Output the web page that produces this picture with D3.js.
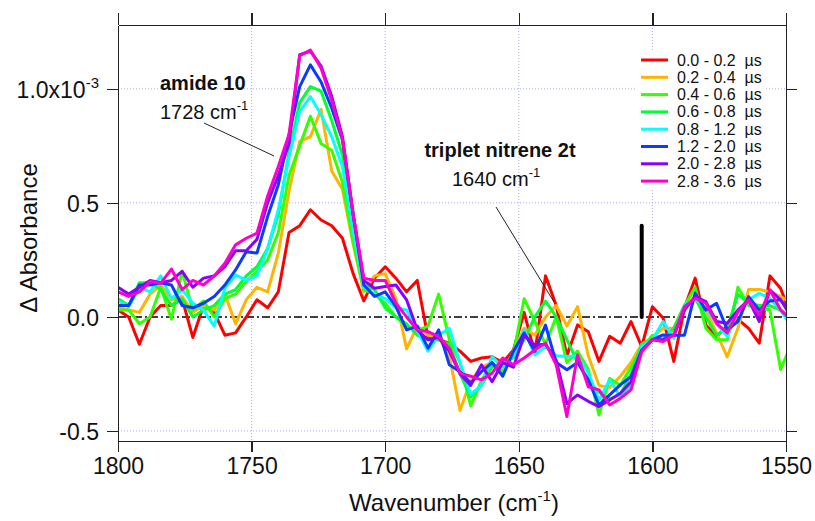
<!DOCTYPE html>
<meta charset = "utf-8">
<style>
body { margin: 0; background: #fff; }
text { font-family: Arial, "Liberation Sans", sans-serif; fill: #111; }
.axis path, .axis line { stroke: #222; stroke-width: 1.5; shape-rendering: crispEdges; }
.axis text { font-size: 23px; }
.grid { stroke: #a8a8ff; stroke-width: 1; stroke-dasharray: 1,2; }
.series { fill: none; stroke-width: 3; stroke-linejoin: round; }
.legend text { font-size: 16px; white-space: pre; }
</style>
<body>
<script src = "https://cdn.jsdelivr.net/npm/d3@7"></script>
<script>

// wavenumbers (cm-1)
var wavenumbers = [1800, 1796, 1792, 1788, 1784, 1780, 1776, 1772, 1768, 1764,
  1760, 1756, 1752, 1748, 1744, 1740, 1736, 1732, 1728, 1724,
  1720, 1716, 1712, 1708, 1704, 1700, 1696, 1692, 1688, 1684,
  1680, 1676, 1672, 1668, 1664, 1660, 1656, 1652, 1648, 1644,
  1640, 1636, 1632, 1628, 1624, 1620, 1616, 1612, 1608, 1604,
  1600, 1596, 1592, 1588, 1584, 1580, 1576, 1572, 1568, 1564,
  1560, 1556, 1552, 1548];

// delta absorbance, units of 1e-3
var s0_02 = [0.03, 0.0, -0.12, 0.0, 0.05, 0.05, 0.08, -0.09, 0.05, 0.02,
  -0.08, -0.07, 0.0, 0.075, 0.04, 0.11, 0.37, 0.40, 0.47, 0.425,
  0.40, 0.345, 0.19, 0.07, 0.17, 0.22, 0.17, 0.11, 0.16, -0.09,
  -0.10, -0.115, -0.15, -0.195, -0.18, -0.175, -0.20, -0.145, 0.02, -0.16,
  0.18, 0.05, -0.17, -0.035, -0.065, -0.195, -0.085, -0.115, -0.02, -0.13,
  0.045, -0.005, -0.195, 0.04, 0.17, -0.035, -0.085, -0.04, -0.01, -0.05,
  -0.115, 0.18, 0.125, 0.0];
var s02_04 = [0.04, 0.03, 0.02, 0.10, 0.14, 0.075, 0.09, 0.02, 0.05, 0.03,
  0.10, -0.03, 0.075, 0.13, 0.11, 0.28, 0.55, 0.77, 0.79, 0.91,
  0.64, 0.56, 0.32, 0.11, 0.18, 0.19, 0.08, -0.14, -0.04, -0.08,
  -0.09, -0.17, -0.41, -0.28, -0.22, -0.20, -0.25, -0.15, -0.05, -0.08,
  0.0, 0.05, -0.04, 0.045, -0.17, -0.30, -0.31, -0.26, -0.20, -0.12,
  -0.09, -0.05, -0.05, 0.05, 0.09, 0.03, -0.07, -0.175, -0.05, 0.12,
  0.12, 0.11, 0.09, 0.06];
var s04_06 = [0.03, 0.03, -0.03, 0.0, 0.13, -0.01, 0.20, 0.03, 0.07, 0.0,
  0.08, 0.10, 0.155, 0.20, 0.25, 0.37, 0.62, 0.75, 0.88, 0.76,
  0.73, 0.59, 0.33, 0.12, 0.10, 0.06, 0.0, -0.04, -0.06, -0.04,
  0.10, -0.10, -0.20, -0.39, -0.28, -0.20, -0.24, -0.16, 0.08, -0.02,
  -0.12, 0.0, -0.20, -0.15, -0.23, -0.43, -0.27, -0.30, -0.22, -0.14,
  -0.08, -0.10, -0.05, 0.05, 0.13, -0.05, -0.10, -0.10, 0.13, 0.05,
  0.04, 0.03, -0.23, -0.12];
var s06_08 = [0.08, 0.05, 0.15, 0.15, 0.12, 0.05, 0.08, 0.0, 0.03, 0.05,
  0.10, 0.12, 0.18, 0.22, 0.30, 0.45, 0.72, 0.94, 1.01, 0.99,
  0.86, 0.71, 0.40, 0.14, 0.12, 0.04, 0.0, -0.03, -0.08, -0.10,
  -0.10, -0.12, -0.25, -0.35, -0.30, -0.22, -0.20, -0.18, -0.10, 0.0,
  0.07, 0.0, -0.10, -0.20, -0.28, -0.33, -0.36, -0.34, -0.25, -0.12,
  -0.10, -0.10, -0.05, 0.05, 0.08, 0.0, -0.08, -0.05, 0.10, 0.06,
  0.05, 0.05, 0.03, 0.0];
var s08_12 = [0.07, 0.045, 0.13, 0.11, 0.18, 0.08, 0.12, 0.06, 0.03, -0.04,
  0.126, 0.184, 0.16, 0.18, 0.30, 0.47, 0.70, 0.90, 0.966, 0.886,
  0.79, 0.66, 0.38, 0.13, 0.10, 0.08, 0.04, 0.03, -0.06, -0.15,
  -0.08, -0.05, -0.20, -0.34, -0.30, -0.175, -0.22, -0.17, -0.057, -0.167,
  -0.13, -0.17, -0.174, -0.17, -0.247, -0.364, -0.276, -0.35, -0.30, -0.13,
  -0.10, -0.02, -0.094, 0.053, 0.08, 0.04, -0.03, -0.086, 0.02, 0.075,
  0.104, 0.08, 0.03, -0.043];
var s12_20 = [0.05, 0.05, 0.14, 0.14, 0.15, 0.14, 0.05, 0.04, 0.06, 0.09,
  0.14, 0.206, 0.286, 0.28, 0.44, 0.58, 0.80, 1.01, 1.105, 1.03,
  0.915, 0.776, 0.45, 0.14, 0.09, 0.11, 0.045, -0.057, -0.04, -0.137,
  -0.057, -0.21, -0.24, -0.29, -0.24, -0.20, -0.26, -0.15, -0.07, -0.15,
  -0.036, -0.20, -0.232, -0.20, -0.276, -0.386, -0.342, -0.298, -0.262, -0.145,
  -0.10, -0.079, -0.08, -0.08, 0.104, 0.03, 0.06, -0.057, -0.02, 0.089,
  0.03, 0.07, 0.075, 0.008];
var s20_28 = [0.13, 0.10, 0.13, 0.16, 0.15, 0.16, 0.20, 0.13, 0.17, 0.18,
  0.22, 0.29, 0.29, 0.34, 0.50, 0.62, 0.76, 1.15, 1.165, 1.10,
  0.966, 0.79, 0.45, 0.16, 0.126, 0.133, 0.14, 0.075, -0.057, -0.10,
  -0.09, -0.15, -0.25, -0.30, -0.21, -0.284, -0.20, -0.22, -0.08, -0.123,
  -0.12, -0.19, -0.38, -0.342, -0.37, -0.393, -0.364, -0.335, -0.284, -0.15,
  -0.10, -0.10, -0.08, 0.03, 0.089, 0.067, -0.02, -0.028, 0.03, 0.075,
  -0.02, 0.118, 0.075, 0.0];
var s28_36 = [0.11, 0.09, 0.11, 0.155, 0.148, 0.21, 0.12, 0.16, 0.14, 0.18,
  0.235, 0.316, 0.345, 0.367, 0.53, 0.66, 0.80, 1.145, 1.17, 1.09,
  0.95, 0.78, 0.45, 0.17, 0.16, 0.16, 0.06, 0.0, -0.057, -0.064,
  -0.086, -0.137, -0.247, -0.26, -0.276, -0.247, -0.18, -0.21, -0.18, -0.145,
  -0.115, -0.21, -0.437, -0.167, -0.306, -0.32, -0.386, -0.357, -0.32, -0.152,
  -0.10, -0.108, -0.079, 0.045, 0.082, 0.06, -0.028, -0.07, 0.022, 0.075,
  0.008, 0.118, 0.03, -0.014];

var labels = ["0.0 - 0.2  \u00b5s", "0.2 - 0.4  \u00b5s", "0.4 - 0.6  \u00b5s", "0.6 - 0.8  \u00b5s",
  "0.8 - 1.2  \u00b5s", "1.2 - 2.0  \u00b5s", "2.0 - 2.8  \u00b5s", "2.8 - 3.6  \u00b5s"];
var colors = ["#ff0000", "#ffb400", "#33ff00", "#00ff33", "#00ffff", "#0a3cff", "#8800ff", "#ff00cc"];
var seriesValues = [s0_02, s02_04, s04_06, s06_08, s08_12, s12_20, s20_28, s28_36];

var xTicks = [1800, 1750, 1700, 1650, 1600, 1550];
var yTicks = [-0.5, 0.0, 0.5, 1.0];

var width = 815, height = 521;
var plot = {left: 118, right: 786, top: 25, bottom: 441};

var svg = d3.select("body")
  .append("svg")
    .attr("width", width)
    .attr("height", height);

var x = d3.scaleLinear().domain([1800, 1550]).range([plot.left, plot.right]);
var y = d3.scaleLinear().domain([-0.544, 1.28]).range([plot.bottom, plot.top]);

svg.append("clipPath").attr("id", "clip")
  .append("rect")
    .attr("x", plot.left).attr("y", plot.top)
    .attr("width", plot.right - plot.left).attr("height", plot.bottom - plot.top);

// grid
svg.selectAll(".vgrid")
  .data([1750, 1700, 1650, 1600])
  .enter().append("line")
    .attr("class", "grid")
    .attr("x1", function(d) { return x(d); }).attr("x2", function(d) { return x(d); })
    .attr("y1", plot.top).attr("y2", plot.bottom);
svg.selectAll(".hgrid")
  .data([-0.5, 0.5, 1.0])
  .enter().append("line")
    .attr("class", "grid")
    .attr("x1", plot.left).attr("x2", plot.right)
    .attr("y1", function(d) { return y(d); }).attr("y2", function(d) { return y(d); });

// zero line
svg.append("line")
  .attr("x1", plot.left).attr("x2", plot.right)
  .attr("y1", y(0)).attr("y2", y(0))
  .style("stroke", "#000")
  .style("stroke-width", 1.5)
  .style("stroke-dasharray", "8,3,2,3");

// legend background hides the grid behind it
var legend = svg.append("g").attr("class", "legend");
legend.append("rect")
  .attr("x", 636).attr("y", 51)
  .attr("width", 128).attr("height", 139)
  .style("fill", "#fff");

var line = d3.line()
  .x(function(d, i) { return x(wavenumbers[i]); })
  .y(function(d) { return y(d); });

svg.append("g")
  .attr("clip-path", "url(#clip)")
  .selectAll("path")
  .data(seriesValues)
  .enter().append("path")
    .attr("class", "series")
    .attr("d", line)
    .style("stroke", function(d, i) { return colors[i]; });

// scale bar
svg.append("line")
  .attr("x1", x(1604)).attr("x2", x(1604))
  .attr("y1", y(0)).attr("y2", y(0.4))
  .style("stroke", "#000")
  .style("stroke-width", 4)
  .style("stroke-linecap", "round");

// legend entries
for (var j = 0; j < labels.length; j++) {
  var ly = 60 + j * 17.3;
  legend.append("line")
    .attr("x1", 641).attr("x2", 668)
    .attr("y1", ly).attr("y2", ly)
    .style("stroke", colors[j])
    .style("stroke-width", 3);
  legend.append("text")
    .attr("x", 677).attr("y", ly + 5.5)
    .text(labels[j]);
}

// axes
svg.append("g")
  .attr("class", "axis")
  .attr("transform", "translate(0," + plot.bottom + ")")
  .call(d3.axisBottom(x).tickValues(xTicks).tickSize(11).tickSizeOuter(0).tickPadding(6).tickFormat(d3.format("d")));
svg.append("g")
  .attr("class", "axis")
  .attr("transform", "translate(0," + plot.top + ")")
  .call(d3.axisTop(x).tickValues(xTicks).tickSize(12).tickSizeOuter(0).tickFormat(""));
svg.append("g")
  .attr("class", "axis")
  .attr("transform", "translate(" + plot.right + ",0)")
  .call(d3.axisRight(y).tickValues(yTicks).tickSize(11).tickSizeOuter(0).tickFormat(""));

var yAxis = svg.append("g")
  .attr("class", "axis")
  .attr("transform", "translate(" + plot.left + ",0)")
  .call(d3.axisLeft(y).tickValues(yTicks).tickSize(11).tickSizeOuter(0).tickPadding(8)
    .tickFormat(function(d) { return d.toFixed(1); }));

yAxis.selectAll(".tick text")
  .attr("dy", "0.36em")
  .each(function(d) {
    if (d === 1.0) {
      var t = d3.select(this).text("");
      t.append("tspan").text("1.0x10");
      t.append("tspan").attr("dy", "-10").style("font-size", "15px").text("-3");
    }
  });

// axis titles
var xt = svg.append("text")
  .attr("x", 454).attr("y", 511)
  .attr("text-anchor", "middle")
  .style("font-size", "24px")
  .text("Wavenumber (cm");
xt.append("tspan").attr("dy", "-10").style("font-size", "15px").text("-1");
xt.append("tspan").attr("dy", "10").text(")");

svg.append("text")
  .attr("transform", "translate(37,238) rotate(-90)")
  .attr("text-anchor", "middle")
  .style("font-size", "24px")
  .text("\u0394 Absorbance");

// annotations
svg.append("text")
  .attr("x", 160).attr("y", 90)
  .style("font-size", "20px").style("font-weight", "bold")
  .text("amide 10");
var a1 = svg.append("text")
  .attr("x", 160).attr("y", 119)
  .style("font-size", "20px")
  .text("1728 cm");
a1.append("tspan").attr("dy", "-9").style("font-size", "13px").text("-1");
svg.append("line")
  .attr("x1", 204).attr("y1", 123).attr("x2", 274).attr("y2", 156)
  .style("stroke", "#222").style("stroke-width", 1);

svg.append("text")
  .attr("x", 500).attr("y", 157)
  .attr("text-anchor", "middle")
  .style("font-size", "20px").style("font-weight", "bold")
  .text("triplet nitrene 2t");
var a2 = svg.append("text")
  .attr("x", 452).attr("y", 186)
  .style("font-size", "20px")
  .text("1640 cm");
a2.append("tspan").attr("dy", "-9").style("font-size", "13px").text("-1");
svg.append("line")
  .attr("x1", 496).attr("y1", 207).attr("x2", 554).attr("y2", 302)
  .style("stroke", "#222").style("stroke-width", 1);

</script>
</body>
